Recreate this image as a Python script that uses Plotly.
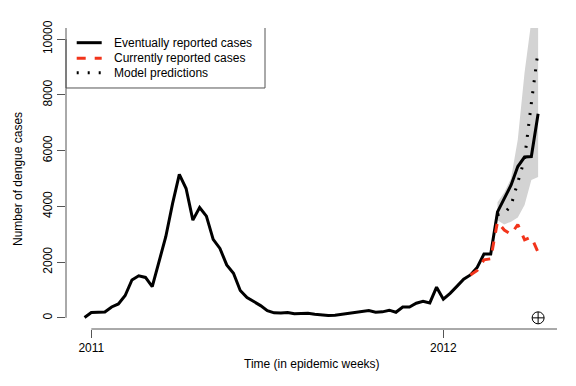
import plotly.graph_objects as go

# ---- data (week index: 0 = first epidemic week of 2011) ----
first_week = -1
eventually_reported = [
    10, 190, 200, 210, 390, 500, 800, 1360, 1510, 1450, 1120, 2010, 2910, 4100,
    5150, 4640, 3506, 3960, 3650, 2815, 2490, 1900, 1600, 980, 730, 585, 440,
    260, 180, 170, 195, 145, 145, 165, 130, 95, 85, 95, 130, 165, 190, 215, 260,
    200, 215, 275, 200, 390, 390, 525, 595, 535, 1100, 670, 880, 1130, 1385,
    1540, 1810, 2290, 2290, 3800, 4280, 4760, 5430, 5770, 5790, 7320,
]
weeks = list(range(first_week, first_week + len(eventually_reported)))

current_start = 56
currently_reported = [1540, 1700, 2080, 2120, 3450, 3150, 3000, 3350, 2800, 2900, 2350]
current_weeks = list(range(current_start, current_start + len(currently_reported)))

pred_start = 60
model_pred = [3700, 3750, 4030, 4900, 5700, 7700, 9600]
pred_lower = [3500, 3350, 3450, 3600, 4050, 4950, 5050]
pred_upper = [4150, 4500, 5000, 6400, 8800, 11000, 12500]
pred_weeks = list(range(pred_start, pred_start + len(model_pred)))

now_week = 66
now_value = 0

year_tick_weeks = [0, 52]
year_tick_labels = ["2011", "2012"]
y_ticks = [0, 2000, 4000, 6000, 8000, 10000]
y_tick_labels = ["0", "2000", "4000", "6000", "8000", "10000"]

legend_labels = ["Eventually reported cases", "Currently reported cases", "Model predictions"]

x_range = [-3.74, 68.79]
y_range = [-400, 10400]

FONT = "Liberation Sans, Arial, Helvetica, sans-serif"
AXIS_COL = "#555555"
RED = "#F2341B"

line_styles = [
    dict(color="black", width=3),
    dict(color=RED, width=3, dash="9px,9px"),
    dict(color="black", width=3, dash="2px,9px"),
]

fig = go.Figure()

# prediction interval band
fig.add_trace(go.Scatter(
    x=pred_weeks + pred_weeks[::-1],
    y=pred_upper + pred_lower[::-1],
    fill="toself", fillcolor="#D3D3D3",
    line=dict(width=0), mode="lines",
    showlegend=False, hoverinfo="skip",
))

fig.add_trace(go.Scatter(
    x=weeks, y=eventually_reported, mode="lines",
    line=line_styles[0], name=legend_labels[0], showlegend=False,
))

fig.add_trace(go.Scatter(
    x=current_weeks, y=currently_reported, mode="lines",
    line=line_styles[1], name=legend_labels[1], showlegend=False,
))

fig.add_trace(go.Scatter(
    x=pred_weeks, y=model_pred, mode="lines",
    line=line_styles[2], name=legend_labels[2], showlegend=False,
))

fig.add_trace(go.Scatter(
    x=[now_week], y=[now_value], mode="markers",
    marker=dict(symbol="circle-cross-open", size=12, color="black",
                line=dict(width=1, color="black")),
    showlegend=False, cliponaxis=False,
))

shapes = [
    # x axis line (from 2011 tick to the right edge)
    dict(type="line", xref="x", yref="paper", x0=0, x1=x_range[1], y0=0, y1=0,
         line=dict(color=AXIS_COL, width=1)),
    # y axis line (0..10000)
    dict(type="line", xref="paper", yref="y", x0=0, x1=0, y0=0, y1=10000,
         line=dict(color=AXIS_COL, width=1)),
    # legend box (left, right, bottom)
    dict(type="line", xref="paper", yref="paper", x0=0, x1=0, y0=0.8007, y1=1,
         line=dict(color=AXIS_COL, width=1)),
    dict(type="line", xref="paper", yref="paper", x0=0.4053, x1=0.4053, y0=0.8007, y1=1,
         line=dict(color=AXIS_COL, width=1)),
    dict(type="line", xref="paper", yref="paper", x0=0, x1=0.4053, y0=0.8007, y1=0.8007,
         line=dict(color=AXIS_COL, width=1)),
]

annotations = [
    dict(text="Time (in epidemic weeks)", xref="paper", yref="paper",
         x=0.5, y=-0.117, xanchor="center", yanchor="middle",
         showarrow=False, font=dict(size=12, family=FONT, color="black")),
    dict(text="Number of dengue cases", xref="paper", yref="paper",
         x=-0.0988, y=0.5, xanchor="center", yanchor="middle", textangle=-90,
         showarrow=False, font=dict(size=12, family=FONT, color="black")),
]

# legend (keys + labels)
legend_rows_y = [0.9512, 0.8993, 0.8515]
for label, style, ry in zip(legend_labels, line_styles, legend_rows_y):
    shapes.append(dict(type="line", xref="paper", yref="paper",
                       x0=0.0218, x1=0.0727, y0=ry, y1=ry, line=style))
    annotations.append(dict(text=label, xref="paper", yref="paper",
                            x=0.0931, y=ry, xanchor="left", yanchor="middle",
                            showarrow=False,
                            font=dict(size=12, family=FONT, color="black")))

fig.update_layout(
    width=576, height=386, autosize=False,
    margin=dict(l=66, r=19, t=28, b=57, pad=0),
    paper_bgcolor="white", plot_bgcolor="white",
    font=dict(family=FONT, size=12, color="black"),
    shapes=shapes,
    annotations=annotations,
    showlegend=False,
    xaxis=dict(range=x_range, tickvals=year_tick_weeks, ticktext=year_tick_labels,
               ticks="outside", ticklen=8, tickcolor=AXIS_COL, tickwidth=1,
               showgrid=False, zeroline=False, showline=False, automargin=False,
               tickfont=dict(size=12, family=FONT, color="black")),
    yaxis=dict(range=y_range, tickvals=y_ticks, ticktext=y_tick_labels, tickangle=-90,
               ticks="outside", ticklen=8, tickcolor=AXIS_COL, tickwidth=1,
               showgrid=False, zeroline=False, showline=False, automargin=False,
               tickfont=dict(size=12, family=FONT, color="black")),
)

fig.write_html(
    "out.html",
    config={"displayModeBar": False},
    post_script="document.body.style.margin='0px';document.body.style.overflow='hidden';",
)
